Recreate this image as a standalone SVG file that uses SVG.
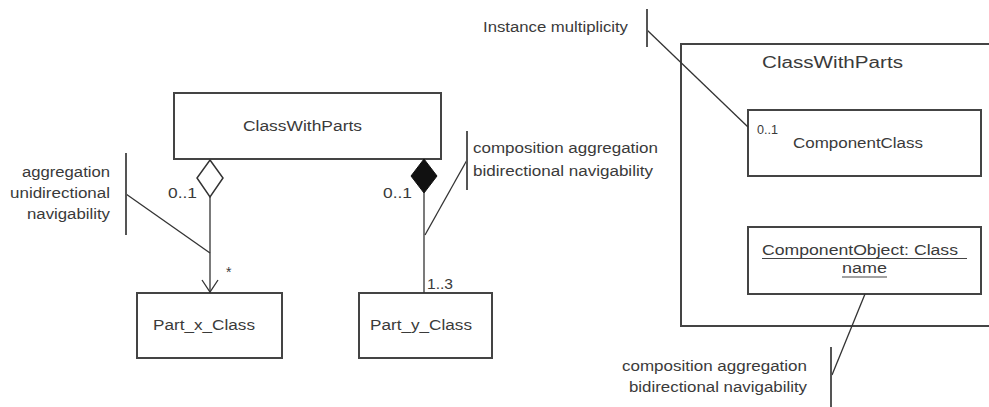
<svg xmlns="http://www.w3.org/2000/svg" width="989" height="407" viewBox="0 0 989 407">
<style>
  .box { fill: #fff; stroke: #444; stroke-width: 2; }
  .ln { fill: none; stroke: #333; stroke-width: 1.3; }
  .bar { fill: none; stroke: #555; stroke-width: 2; }
  text { font-family: "Liberation Sans", Arial, sans-serif; fill: #3a3a3a; font-size: 14px; }
  .big { font-size: 16px; }
  .sm { font-size: 13px; }
</style>
<rect width="989" height="407" fill="#fff"/>
<g id="classWithParts">
  <rect class="box" x="174" y="93" width="267" height="66"/>
  <text x="243" y="131" textLength="119" lengthAdjust="spacingAndGlyphs">ClassWithParts</text>
</g>
<g id="partX">
  <rect class="box" x="137" y="293" width="145" height="65"/>
  <text x="153" y="330" textLength="102" lengthAdjust="spacingAndGlyphs">Part_x_Class</text>
</g>
<g id="partY">
  <rect class="box" x="359" y="293" width="133" height="65"/>
  <text x="370" y="330" textLength="102" lengthAdjust="spacingAndGlyphs">Part_y_Class</text>
</g>
<g id="classWithPartsComposite">
  <rect class="box" x="681" y="44" width="320" height="282"/>
  <text class="big" x="762" y="68" textLength="141" lengthAdjust="spacingAndGlyphs">ClassWithParts</text>
</g>
<g id="componentClass">
  <rect class="box" x="748" y="110" width="233" height="66"/>
  <text class="sm" x="757" y="134" textLength="21" lengthAdjust="spacingAndGlyphs">0..1</text>
  <text x="793" y="148" textLength="130" lengthAdjust="spacingAndGlyphs">ComponentClass</text>
</g>
<g id="componentObject">
  <rect class="box" x="748" y="227" width="233" height="67"/>
  <text x="762" y="255" textLength="196" lengthAdjust="spacingAndGlyphs">ComponentObject: Class</text>
  <line x1="762" y1="258.5" x2="967" y2="258.5" stroke="#444" stroke-width="1.2"/>
  <text x="842" y="273" textLength="45" lengthAdjust="spacingAndGlyphs">name</text>
  <line x1="842" y1="277" x2="887" y2="277" stroke="#444" stroke-width="1.2"/>
</g>
<g id="connectors">
  <line class="ln" x1="210" y1="197" x2="210" y2="293"/>
  <polyline class="ln" points="202,280 210,292 218,280"/>
  <polygon points="210,160 223,178 210,197 197,178" fill="#fff" stroke="#333" stroke-width="1.5"/>
  <line class="ln" x1="424" y1="193" x2="424" y2="293"/>
  <polygon points="424,159 437,176 424,193 411,176" fill="#111" stroke="#111" stroke-width="1"/>
  <line class="ln" x1="126" y1="194" x2="210" y2="253"/>
  <line class="ln" x1="467" y1="160" x2="425" y2="235"/>
  <line class="ln" x1="647" y1="30" x2="748" y2="127"/>
  <line class="ln" x1="865" y1="294" x2="832" y2="375"/>
  <line class="bar" x1="126" y1="153" x2="126" y2="235"/>
  <line class="bar" x1="467" y1="131" x2="467" y2="190"/>
  <line class="bar" x1="647" y1="9" x2="647" y2="47"/>
  <line class="bar" x1="831" y1="347" x2="831" y2="407"/>
</g>
<g id="labels">
  <text x="22" y="177" textLength="88" lengthAdjust="spacingAndGlyphs">aggregation</text>
  <text x="10" y="198" textLength="100" lengthAdjust="spacingAndGlyphs">unidirectional</text>
  <text x="27" y="219" textLength="83" lengthAdjust="spacingAndGlyphs">navigability</text>
  <text x="168" y="198" textLength="29" lengthAdjust="spacingAndGlyphs">0..1</text>
  <text x="226" y="277">*</text>
  <text x="473" y="153" textLength="185" lengthAdjust="spacingAndGlyphs">composition aggregation</text>
  <text x="473" y="176" textLength="180" lengthAdjust="spacingAndGlyphs">bidirectional navigability</text>
  <text x="383" y="198" textLength="29" lengthAdjust="spacingAndGlyphs">0..1</text>
  <text x="427" y="289" textLength="26" lengthAdjust="spacingAndGlyphs">1..3</text>
  <text x="483" y="32" textLength="145" lengthAdjust="spacingAndGlyphs">Instance multiplicity</text>
  <text x="622" y="371" textLength="185" lengthAdjust="spacingAndGlyphs">composition aggregation</text>
  <text x="629" y="392" textLength="178" lengthAdjust="spacingAndGlyphs">bidirectional navigability</text>
</g>
</svg>
